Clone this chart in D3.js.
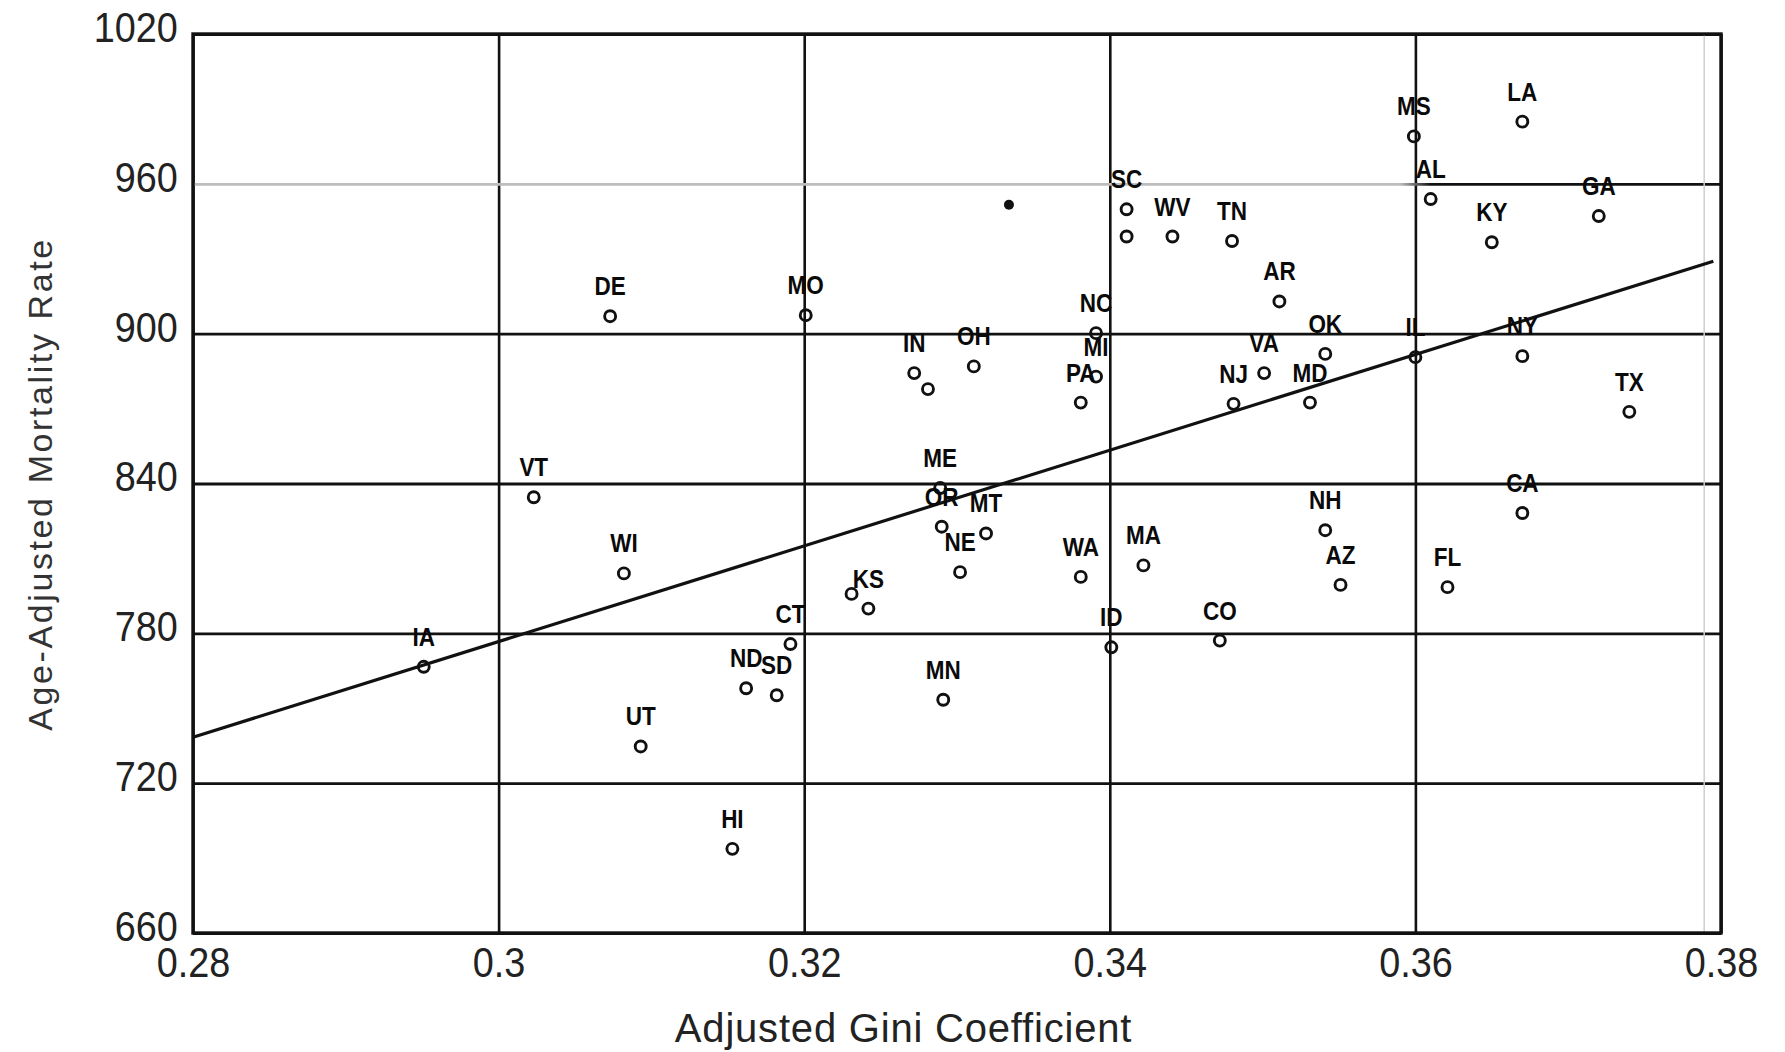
<!DOCTYPE html>
<html>
<head>
<meta charset="utf-8">
<title>Adjusted Gini Coefficient vs Age-Adjusted Mortality Rate</title>
<script src="https://cdn.jsdelivr.net/npm/d3@7"></script>
<style>
  html, body { margin: 0; background: #fff; }
  svg { display: block; }
  text { font-family: "Liberation Sans", Arial, Helvetica, sans-serif; }
</style>
</head>
<body>
<div id="chart"></div>
<script>
// one entry per state; an empty label means the label is hidden in the original
const stateLabels = ['IA', 'VT', 'WI', 'DE', 'UT', 'HI', 'ND', 'SD', 'CT', 'MO',
  '', 'KS', 'IN', '', 'OH', 'ME', 'OR', 'MT', 'NE', 'MN',
  'WA', 'MA', 'ID', 'CO', 'NC', 'MI', 'PA', 'SC', '', 'WV',
  'TN', 'AR', 'VA', 'NJ', 'MD', 'OK', 'IL', 'NY', 'TX', 'CA',
  'NH', 'AZ', 'FL', 'LA', 'MS', 'AL', 'GA', 'KY'];
const giniValues = [0.2951, 0.3023, 0.3082, 0.3073, 0.3093, 0.3153, 0.3162, 0.3182, 0.3191, 0.3201,
  0.3231, 0.3242, 0.3272, 0.3281, 0.3311, 0.3289, 0.3290, 0.3319, 0.3302, 0.3291,
  0.3381, 0.3422, 0.3401, 0.3472, 0.3391, 0.3391, 0.3381, 0.3411, 0.3411, 0.3441,
  0.3480, 0.3511, 0.3501, 0.3481, 0.3531, 0.3541, 0.3600, 0.3670, 0.3740, 0.3670,
  0.3541, 0.3551, 0.3621, 0.3670, 0.3599, 0.3610, 0.3720, 0.3650];
const mortalityValues = [766.6, 834.5, 804.0, 907.0, 734.7, 693.7, 758.0, 755.2, 775.7, 907.4,
  795.8, 789.9, 884.2, 877.8, 886.9, 838.2, 822.7, 820.0, 804.5, 753.4,
  802.6, 807.2, 774.4, 777.1, 900.2, 882.8, 872.4, 949.8, 938.9, 938.9,
  937.1, 912.9, 884.2, 871.9, 872.4, 891.9, 890.6, 891.0, 868.7, 828.2,
  821.3, 799.4, 798.5, 984.9, 979.0, 953.9, 947.1, 936.6];

// the small filled dot without label
const dotGini = [0.3334];
const dotMortality = [951.6];

// fitted regression line end points
const fitGini = [0.28, 0.3795];
const fitMortality = [738.4, 929.0];

const xTicks = [0.28, 0.30, 0.32, 0.34, 0.36, 0.38];
const xTickLabels = ['0.28', '0.3', '0.32', '0.34', '0.36', '0.38'];
const yTicks = [660, 720, 780, 840, 900, 960, 1020];
const yTickLabels = ['660', '720', '780', '840', '900', '960', '1020'];

const width = 1785, height = 1052;
const margin = { top: 34, right: 64, bottom: 119, left: 193 };
const w = width - margin.left - margin.right;
const h = height - margin.top - margin.bottom;

const svg = d3.select('#chart').append('svg')
  .attr('width', width).attr('height', height);

// the scan shows the 960 line pale on the left
const defs = svg.append('defs');
const fade = defs.append('linearGradient').attr('id', 'fade960')
  .attr('gradientUnits', 'userSpaceOnUse')
  .attr('x1', 0).attr('x2', w).attr('y1', 0).attr('y2', 0);
fade.append('stop').attr('offset', 0).attr('stop-color', '#bdbdbd');
fade.append('stop').attr('offset', 0.79).attr('stop-color', '#bdbdbd');
fade.append('stop').attr('offset', 0.81).attr('stop-color', '#111');
fade.append('stop').attr('offset', 1).attr('stop-color', '#111');

const g = svg.append('g').attr('transform', `translate(${margin.left},${margin.top})`);

const x = d3.scaleLinear().domain([0.28, 0.38]).range([0, w]);
const y = d3.scaleLinear().domain([660, 1020]).range([h, 0]);

// grid lines
g.append('g').attr('class', 'grid-x')
  .attr('transform', `translate(0,${h})`)
  .call(d3.axisBottom(x).tickValues(xTicks).tickSize(-h).tickFormat(''))
  .call(s => s.select('.domain').remove())
  .selectAll('line').attr('stroke', '#111').attr('stroke-width', 2.6);

g.append('g').attr('class', 'grid-y')
  .call(d3.axisLeft(y).tickValues(yTicks).tickSize(-w).tickFormat(''))
  .call(s => s.select('.domain').remove())
  .selectAll('line')
  .attr('stroke', d => d === 960 ? 'url(#fade960)' : '#111')
  .attr('stroke-width', 2.9);

// faint scan line near the right edge
g.append('line')
  .attr('x1', x(0.3789)).attr('x2', x(0.3789))
  .attr('y1', 0).attr('y2', h)
  .attr('stroke', '#cfcfcf').attr('stroke-width', 1.5);

// frame
g.append('rect')
  .attr('width', w).attr('height', h)
  .attr('fill', 'none').attr('stroke', '#111').attr('stroke-width', 3.4);

// tick labels
g.append('g')
  .attr('transform', `translate(0,${h})`)
  .call(d3.axisBottom(x).tickValues(xTicks).tickSize(0).tickPadding(14)
    .tickFormat((d, i) => xTickLabels[i]))
  .call(s => s.select('.domain').remove())
  .selectAll('text')
  .attr('font-size', 42).attr('fill', '#222')
  .attr('transform', 'scale(0.9,1)')
  .style('font-family', '"Liberation Sans", Arial, sans-serif');

g.append('g')
  .call(d3.axisLeft(y).tickValues(yTicks).tickSize(0).tickPadding(17)
    .tickFormat((d, i) => yTickLabels[i]))
  .call(s => s.select('.domain').remove())
  .selectAll('text')
  .attr('font-size', 42).attr('fill', '#222')
  .attr('y', -6)
  .attr('transform', 'scale(0.9,1)')
  .style('font-family', '"Liberation Sans", Arial, sans-serif');

// regression line
const line = d3.line().x(d => x(d[0])).y(d => y(d[1]));
g.append('path')
  .datum(d3.zip(fitGini, fitMortality))
  .attr('d', line)
  .attr('fill', 'none').attr('stroke', '#111').attr('stroke-width', 3.2);

// points
const points = stateLabels.map((s, i) => ({ s, gini: giniValues[i], mort: mortalityValues[i] }));

g.selectAll('circle.state')
  .data(points).enter().append('circle')
  .attr('class', 'state')
  .attr('cx', d => x(d.gini)).attr('cy', d => y(d.mort))
  .attr('r', 5.5)
  .attr('fill', 'none').attr('stroke', '#111').attr('stroke-width', 2.9);

g.selectAll('circle.dot')
  .data(d3.zip(dotGini, dotMortality)).enter().append('circle')
  .attr('class', 'dot')
  .attr('cx', d => x(d[0])).attr('cy', d => y(d[1]))
  .attr('r', 5).attr('fill', '#111');

g.selectAll('text.lbl')
  .data(points.filter(d => d.s !== '')).enter().append('text')
  .attr('class', 'lbl')
  .attr('transform', d => `translate(${x(d.gini)},${y(d.mort) - 21}) scale(0.9,1)`)
  .attr('text-anchor', 'middle')
  .attr('font-size', 25).attr('font-weight', 'bold').attr('fill', '#0a0a0a')
  .text(d => d.s);

// axis titles
svg.append('text')
  .attr('x', margin.left + x(0.3265)).attr('y', 1042)
  .attr('text-anchor', 'middle')
  .attr('font-size', 40).attr('fill', '#222')
  .attr('letter-spacing', 0.8)
  .text('Adjusted Gini Coefficient');

svg.append('text')
  .attr('transform', 'translate(52,484) rotate(-90)')
  .attr('text-anchor', 'middle')
  .attr('font-size', 34).attr('fill', '#333')
  .attr('letter-spacing', 2.6)
  .text('Age-Adjusted Mortality Rate');
</script>
</body>
</html>
